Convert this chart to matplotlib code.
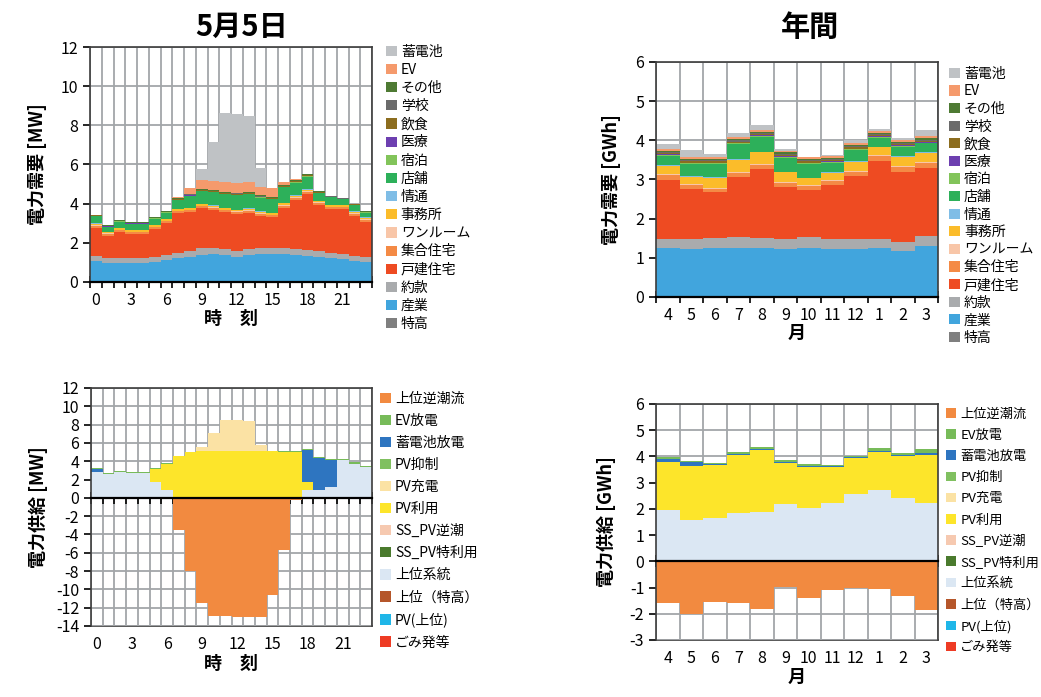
import numpy as np
import matplotlib
matplotlib.use("Agg")
import matplotlib.pyplot as plt

plt.rcParams['font.family'] = ['Noto Sans CJK JP', 'DejaVu Sans']
plt.rcParams['axes.unicode_minus'] = False

# ---------------- data ----------------
hours = list(range(24))
months = ["4", "5", "6", "7", "8", "9", "10", "11", "12", "1", "2", "3"]

demand_names = ["特高", "産業", "約款", "戸建住宅", "集合住宅", "ワンルーム", "事務所", "情通",
                "店舗", "宿泊", "医療", "飲食", "学校", "その他", "EV", "蓄電池"]
demand_colors = ["#7f7f7f", "#41a5dd", "#a9abad", "#ee4b22", "#f48a45", "#f8c6a8", "#fbbc2a",
                 "#7fbde6", "#2db05a", "#82c45a", "#6d3fb0", "#8c6d1f", "#6b6b6b", "#4e7a33",
                 "#f59a6c", "#bfc2c5"]

# 5月5日 hourly demand [MW]
d_tokko = [0] * 24
d_sangyo = [1.05, 0.95, 0.95, 0.95, 0.95, 1.0, 1.1, 1.2, 1.3, 1.4, 1.45, 1.4,
            1.3, 1.4, 1.45, 1.45, 1.45, 1.4, 1.35, 1.3, 1.2, 1.15, 1.05, 1.0]
d_yakkan = [0.3, 0.25, 0.25, 0.25, 0.25, 0.3, 0.3, 0.3, 0.3, 0.35, 0.3, 0.3,
            0.3, 0.3, 0.3, 0.3, 0.3, 0.3, 0.3, 0.3, 0.3, 0.3, 0.3, 0.3]
d_kodate = [1.42, 1.15, 1.34, 1.23, 1.23, 1.4, 1.6, 2.0, 1.96, 2.01, 1.93, 1.86,
            1.87, 1.84, 1.62, 1.55, 2.05, 2.49, 2.85, 2.33, 2.21, 2.26, 2.04, 1.78]
d_shugo = [0.1] * 24
d_oneroom = [0.03] * 24
d_jimusho = [0.07, 0.07, 0.07, 0.07, 0.07, 0.07, 0.08, 0.08, 0.08, 0.08, 0.08, 0.08,
             0.08, 0.08, 0.08, 0.08, 0.08, 0.08, 0.08, 0.07, 0.07, 0.07, 0.07, 0.07]
d_joho = [0.02] * 24
d_tenpo = [0.37, 0.24, 0.31, 0.31, 0.31, 0.32, 0.3, 0.44, 0.6, 0.64, 0.67, 0.69,
           0.73, 0.7, 0.7, 0.69, 0.8, 0.66, 0.65, 0.37, 0.39, 0.29, 0.31, 0.24]
d_shukuhaku = [0.02] * 24
d_iryo = [0.01] * 24
d_inshoku = [0.01] * 7 + [0.03] * 13 + [0.01] * 4
d_gakko = [0.01] * 7 + [0.03] * 13 + [0.01] * 4
d_sonota = [0.03] * 24
d_ev = [0, 0, 0, 0, 0, 0, 0, 0.05, 0.3, 0.45, 0.45, 0.5,
        0.5, 0.5, 0.45, 0.45, 0.15, 0.05, 0, 0, 0, 0, 0, 0]
d_battery = [0, 0, 0, 0, 0, 0, 0, 0, 0, 0.55, 2.0, 3.55,
             3.55, 3.4, 0.95, 0, 0, 0, 0, 0, 0, 0, 0, 0]
day_demand = [d_tokko, d_sangyo, d_yakkan, d_kodate, d_shugo, d_oneroom, d_jimusho, d_joho,
              d_tenpo, d_shukuhaku, d_iryo, d_inshoku, d_gakko, d_sonota, d_ev, d_battery]

# annual monthly demand [GWh]
a_tokko = [0] * 12
a_sangyo = [1.26, 1.22, 1.24, 1.26, 1.24, 1.23, 1.26, 1.23, 1.22, 1.24, 1.18, 1.30]
a_yakkan = [0.23, 0.25, 0.26, 0.26, 0.26, 0.24, 0.26, 0.24, 0.25, 0.24, 0.22, 0.26]
a_kodate = [1.51, 1.30, 1.17, 1.54, 1.76, 1.35, 1.21, 1.39, 1.62, 2.0, 1.8, 1.73]
a_shugo = [0.11, 0.09, 0.1, 0.1, 0.11, 0.1, 0.1, 0.11, 0.11, 0.12, 0.13, 0.13]
a_oneroom = [0.02] * 12
a_jimusho = [0.21, 0.18, 0.26, 0.32, 0.3, 0.24, 0.18, 0.18, 0.23, 0.2, 0.22, 0.23]
a_joho = [0.02] * 12
a_tenpo = [0.24, 0.31, 0.32, 0.38, 0.38, 0.36, 0.34, 0.24, 0.28, 0.23, 0.25, 0.23]
a_shukuhaku = [0.02] * 12
a_iryo = [0.02] * 12
a_inshoku = [0.03] * 12
a_gakko = [0.03] * 12
a_sonota = [0.03] * 12
a_ev = [0.05] * 12
a_battery = [0.13, 0.18, 0.08, 0.12, 0.12, 0.03, 0.01, 0.02, 0.07, 0.04, 0.05, 0.16]
year_demand = [a_tokko, a_sangyo, a_yakkan, a_kodate, a_shugo, a_oneroom, a_jimusho, a_joho,
               a_tenpo, a_shukuhaku, a_iryo, a_inshoku, a_gakko, a_sonota, a_ev, a_battery]

supply_names = ["ごみ発等", "PV(上位)", "上位（特高）", "上位系統", "SS_PV特利用", "SS_PV逆潮",
                "PV利用", "PV充電", "PV抑制", "蓄電池放電", "EV放電", "上位逆潮流"]
supply_colors = ["#ee3b24", "#1fb6e8", "#b5562a", "#dbe7f3", "#4a7a2d", "#f6c9b0",
                 "#fde52a", "#fbe2a4", "#80c060", "#2e75c0", "#77bb59", "#f28a40"]

# 5月5日 hourly supply [MW]
s_gomi = [0] * 24
s_pv_upper = [0] * 24
s_upper_tokko = [0] * 24
s_grid = [2.84, 2.6, 2.77, 2.7, 2.7, 1.75, 0.84, 0, 0, 0, 0, 0,
          0, 0, 0, 0, 0, 0, 0.9, 0.9, 1.2, 4.1, 3.75, 3.4]
s_sspv_use = [0] * 24
s_sspv_rev = [0] * 24
s_pv_use = [0, 0, 0, 0, 0, 1.35, 2.84, 4.6, 5.0, 5.1, 5.1, 5.1,
            5.1, 5.1, 5.1, 5.1, 5.05, 5.0, 0.85, 0, 0, 0, 0, 0]
s_pv_charge = [0, 0, 0, 0, 0, 0, 0, 0, 0, 0.5, 1.95, 3.35,
               3.35, 3.3, 0.7, 0, 0, 0, 0, 0, 0, 0, 0, 0]
s_pv_curtail = [0] * 24
s_bat_dis = [0.26, 0, 0, 0, 0, 0, 0, 0, 0, 0, 0, 0,
             0, 0, 0, 0, 0, 0, 3.45, 3.4, 2.9, 0, 0, 0]
s_ev_dis = [0.14, 0.15, 0.13, 0.13, 0.13, 0.12, 0.1, 0, 0, 0, 0, 0,
            0, 0, 0, 0, 0.05, 0.1, 0.15, 0.18, 0.16, 0.17, 0.15, 0.13]
s_reverse = [0, 0, 0, 0, 0, 0, 0, -3.5, -7.95, -11.45, -12.9, -12.9,
             -13.0, -13.05, -13.0, -10.6, -5.7, -0.2, 0, 0, 0, 0, 0, 0]
day_supply = [s_gomi, s_pv_upper, s_upper_tokko, s_grid, s_sspv_use, s_sspv_rev,
              s_pv_use, s_pv_charge, s_pv_curtail, s_bat_dis, s_ev_dis]

# annual monthly supply [GWh]
y_gomi = [0] * 12
y_pv_upper = [0] * 12
y_upper_tokko = [0] * 12
y_grid = [1.96, 1.58, 1.66, 1.83, 1.87, 2.17, 2.02, 2.24, 2.57, 2.72, 2.43, 2.21]
y_sspv_use = [0] * 12
y_sspv_rev = [0] * 12
y_pv_use = [1.84, 2.07, 2.01, 2.24, 2.37, 1.57, 1.59, 1.37, 1.38, 1.46, 1.6, 1.86]
y_pv_charge = [0] * 12
y_pv_curtail = [0] * 12
y_bat_dis = [0.1, 0.13, 0.03, 0.03, 0.05, 0.05, 0.03, 0.03, 0.02, 0.02, 0.03, 0.05]
y_ev_dis = [0.09, 0.06, 0.05, 0.08, 0.08, 0.07, 0.06, 0.04, 0.03, 0.11, 0.06, 0.16]
y_reverse = [-1.6, -2.02, -1.56, -1.6, -1.82, -0.99, -1.41, -1.09, -1.03, -1.07, -1.31, -1.86]
year_supply = [y_gomi, y_pv_upper, y_upper_tokko, y_grid, y_sspv_use, y_sspv_rev,
               y_pv_use, y_pv_charge, y_pv_curtail, y_bat_dis, y_ev_dis]

# ---------------- drawing helpers ----------------
GRID = "#a3a6a9"
SPINE = "#3c3c3c"
TICK_FS = 11.5


def stack(ax, x, layers, colors, names):
    bottom = np.zeros(len(x))
    handles = []
    for vals, c, n in zip(layers, colors, names):
        v = np.asarray(vals, dtype=float)
        h = ax.bar(x, v, width=1.0, bottom=bottom, color=c, linewidth=0, label=n, zorder=2)
        handles.append(h)
        bottom += v
    return handles


def style(ax, n, labels_at, labels, ylim, ystep):
    ax.set_xlim(-0.5, n - 0.5)
    ax.set_ylim(*ylim)
    ax.set_yticks(np.arange(ylim[0], ylim[1] + 0.001, ystep))
    ax.set_xticks(labels_at)
    ax.set_xticklabels(labels)
    ax.set_xticks(np.arange(-0.5, n, 1.0), minor=True)
    ax.tick_params(axis="x", which="major", length=0, labelsize=TICK_FS, pad=7)
    ax.tick_params(axis="x", which="minor", direction="inout", length=8, width=1.2, color="black")
    ax.tick_params(axis="y", which="major", direction="out", length=5, width=1.2,
                   labelsize=TICK_FS, color="black")
    ax.grid(True, axis="x", which="minor", color=GRID, lw=1.3)
    ax.grid(True, axis="y", which="major", color=GRID, lw=1.3)
    ax.set_axisbelow(True)
    for s in ax.spines.values():
        s.set_color(SPINE)
        s.set_linewidth(1.2)
    ax.spines["bottom"].set_color("black")
    ax.spines["bottom"].set_linewidth(1.6)


def legend(ax, handles, x0, y0, spacing, fs):
    ax.legend(handles[::-1], [h.get_label() for h in handles[::-1]],
              loc="upper left", bbox_to_anchor=(x0, y0), frameon=False,
              fontsize=fs, handlelength=0.75, handleheight=0.75, handletextpad=0.3,
              labelspacing=spacing, borderaxespad=0, borderpad=0)


fig = plt.figure(figsize=(10.41, 6.97), dpi=100)
W, H = 1041.0, 697.0


def axes_px(l, t, r, b):
    return fig.add_axes([l / W, 1 - b / H, (r - l) / W, (b - t) / H])


hx = np.arange(24)
mx = np.arange(12)
hour_ticks = [0, 3, 6, 9, 12, 15, 18, 21]
hour_labels = ["0", "3", "6", "9", "12", "15", "18", "21"]

# ---- 5月5日 demand ----
ax1 = axes_px(90, 47, 372, 282)
h1 = stack(ax1, hx, day_demand, demand_colors, demand_names)
style(ax1, 24, hour_ticks, hour_labels, (0, 12), 2)
legend(ax1, h1, 1.05, 1.01, 0.3, 10)
ax1.set_ylabel("電力需要 [MW]", fontsize=13, fontweight="bold", labelpad=10)
ax1.set_xlabel("時　刻", fontsize=13, fontweight="bold", labelpad=0)

# ---- annual demand ----
ax2 = axes_px(656, 62, 938, 297)
h2 = stack(ax2, mx, year_demand, demand_colors, demand_names)
style(ax2, 12, mx, months, (0, 6), 1)
legend(ax2, h2, 1.04, 0.98, 0.26, 10)
ax2.set_ylabel("電力需要 [GWh]", fontsize=13, fontweight="bold", labelpad=10)
ax2.set_xlabel("月", fontsize=13, fontweight="bold", labelpad=0)

# ---- 5月5日 supply ----
ax3 = axes_px(91, 388, 372, 626)
h3 = stack(ax3, hx, day_supply, supply_colors[:-1], supply_names[:-1])
h3.append(ax3.bar(hx, s_reverse, width=1.0, color=supply_colors[-1], linewidth=0,
                  label=supply_names[-1], zorder=2))
style(ax3, 24, hour_ticks, hour_labels, (-14, 12), 2)
legend(ax3, h3, 1.03, 0.985, 0.58, 10)
ax3.set_ylabel("電力供給 [MW]", fontsize=13, fontweight="bold", labelpad=6)

# ---- annual supply ----
ax4 = axes_px(656, 404, 938, 640)
h4 = stack(ax4, mx, year_supply, supply_colors[:-1], supply_names[:-1])
h4.append(ax4.bar(mx, y_reverse, width=1.0, color=supply_colors[-1], linewidth=0,
                  label=supply_names[-1], zorder=2))
style(ax4, 12, mx, months, (-3, 6), 1)
legend(ax4, h4, 1.03, 0.985, 0.62, 9.5)
ax4.set_ylabel("電力供給 [GWh]", fontsize=13, fontweight="bold", labelpad=10)

# supply panels: zero line carries the hour/month ticks, labels stay at the frame bottom
for ax, at, lab, xl in [(ax3, hour_ticks, hour_labels, "時　刻"),
                        (ax4, mx, months, "月")]:
    ax.spines["bottom"].set_position(("data", 0))
    ax.tick_params(axis="x", which="major", labelbottom=False)
    sec = ax.secondary_xaxis(0.0)
    sec.set_xticks(at)
    sec.set_xticklabels(lab)
    sec.tick_params(axis="x", length=0, labelsize=TICK_FS, pad=7)
    sec.spines["bottom"].set_color(SPINE)
    sec.spines["bottom"].set_linewidth(1.2)
    sec.set_xlabel(xl, fontsize=13, fontweight="bold", labelpad=1)

fig.text(242 / W, 1 - 27 / H, "5月5日", ha="center", va="center", fontsize=21, fontweight="bold")
fig.text(810 / W, 1 - 27 / H, "年間", ha="center", va="center", fontsize=21, fontweight="bold")

fig.savefig("out.png", dpi=100, facecolor="white")
